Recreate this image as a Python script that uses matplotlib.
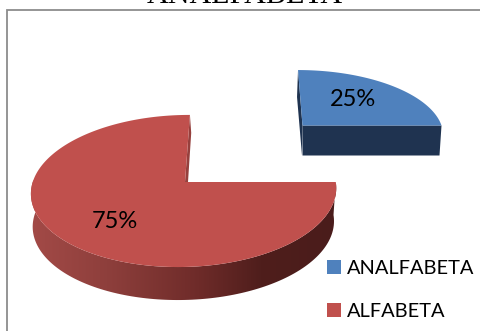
import numpy as np
import matplotlib
matplotlib.use("Agg")
import matplotlib.pyplot as plt
from matplotlib.colors import LinearSegmentedColormap
from matplotlib.patches import Patch, Polygon

title = "ANALFABETA"
categories = ["ANALFABETA", "ALFABETA"]
values = [25, 75]
pct_labels = ["25%", "75%"]
colors = ["#4F81BD", "#C0504D"]

# projection of the unit disc for each slice (screen pixels)
K = 0.118
blue = dict(cx=302.5, cy=125.5, a=139, b=62, c=-5, m=0.0)
red = dict(cx=185, cy=182, a=151.5, b=75, c=5.5, m=0.005)
red_low = dict(cx=184, cy=215, a=149.5, b=75, c=5.5, m=0.0)


def project(p, deg):
    t = np.radians(deg)
    u, v = np.cos(t), np.sin(t)
    w = 1 + K * v + p["m"] * u
    return p["cx"] + (p["a"] * u + p["c"] * v) / w, p["cy"] - p["b"] * v / w


fig = plt.figure(figsize=(4.8, 3.31), dpi=100)
ax = fig.add_axes([0, 0, 1, 1])
ax.set_xlim(0, 480)
ax.set_ylim(331, 0)
ax.axis("off")

# chart frame
ax.plot([7, 7, 480], [331, 9.5, 9.5], color="#8C8C8C", lw=1.3, solid_joinstyle="miter")

ax.text(245, 3, title, family="Liberation Serif", fontsize=21.7, ha="center",
        va="baseline", color="black", clip_on=False)

total = sum(values)
sweeps = [v / total * 360 for v in values]
a0, a1 = 0, sweeps[0]
a2 = a1 + sweeps[1]

# blue slice: walls then face
xb, yb = project(blue, np.linspace(a0, a1, 80))
ax.add_patch(Polygon([(blue["cx"], blue["cy"]), (xb[0], yb[0]), (xb[0] - 2, yb[0] + 30),
                      (blue["cx"], blue["cy"] + 30)], fc="#1F3350", ec="none"))
ax.add_patch(Polygon([(xb[-1], yb[-1]), (xb[-1] - 1, yb[-1] + 27),
                      (blue["cx"] - 0.5, blue["cy"] + 30), (blue["cx"], blue["cy"])],
                     fc="#1F3350", ec="none"))
ax.fill(np.r_[blue["cx"], xb], np.r_[blue["cy"], yb], color=colors[0], lw=0)

# red slice: curved wall with horizontal shading
xt, yt = project(red, np.linspace(178, a2, 140))
xl, yl = project(red_low, np.linspace(a2, 178, 140))
wall = Polygon(np.c_[np.r_[xt, xl], np.r_[yt, yl]], closed=True, fc="none", ec="none")
ax.add_patch(wall)
shade = LinearSegmentedColormap.from_list(
    "shade", [(0, "#A34A47"), (0.25, "#8E3F3C"), (0.55, "#6E2B29"), (0.75, "#4F1E1C"), (1, "#4A1C1B")])
img = ax.imshow(np.linspace(0, 1, 256)[None, :], cmap=shade, extent=(30, 338, 305, 180),
                aspect="auto", zorder=1)
img.set_clip_path(wall)
ax.set_xlim(0, 480)
ax.set_ylim(331, 0)

xr, yr = project(red, np.linspace(a1, a2, 220))
ax.add_patch(Polygon([(xr[0], yr[0]), (xr[0] + 1.3, yr[0] + 18), (red["cx"] + 3, red["cy"]),
                      (red["cx"], red["cy"])], fc="#96403D", ec="none", zorder=2))
ax.fill(np.r_[red["cx"], xr], np.r_[red["cy"], yr], color=colors[1], lw=0, zorder=3)

# percent labels
ax.text(353, 99, pct_labels[0], family="Lato", fontsize=17, ha="center", va="center", zorder=5)
ax.text(115, 221, pct_labels[1], family="Lato", fontsize=17, ha="center", va="center", zorder=5)

handles = [Patch(fc=c, ec="none", label=n) for c, n in zip(colors, categories)]
ax.legend(handles=handles, loc="upper left", bbox_to_anchor=(327 / 480, 1 - 259.5 / 331),
          frameon=False, prop={"family": "Lato", "size": 14.4}, borderpad=0, borderaxespad=0,
          handlelength=0.72, handleheight=0.72, handletextpad=0.28, labelspacing=1.33)

fig.savefig("out.png", dpi=100)
